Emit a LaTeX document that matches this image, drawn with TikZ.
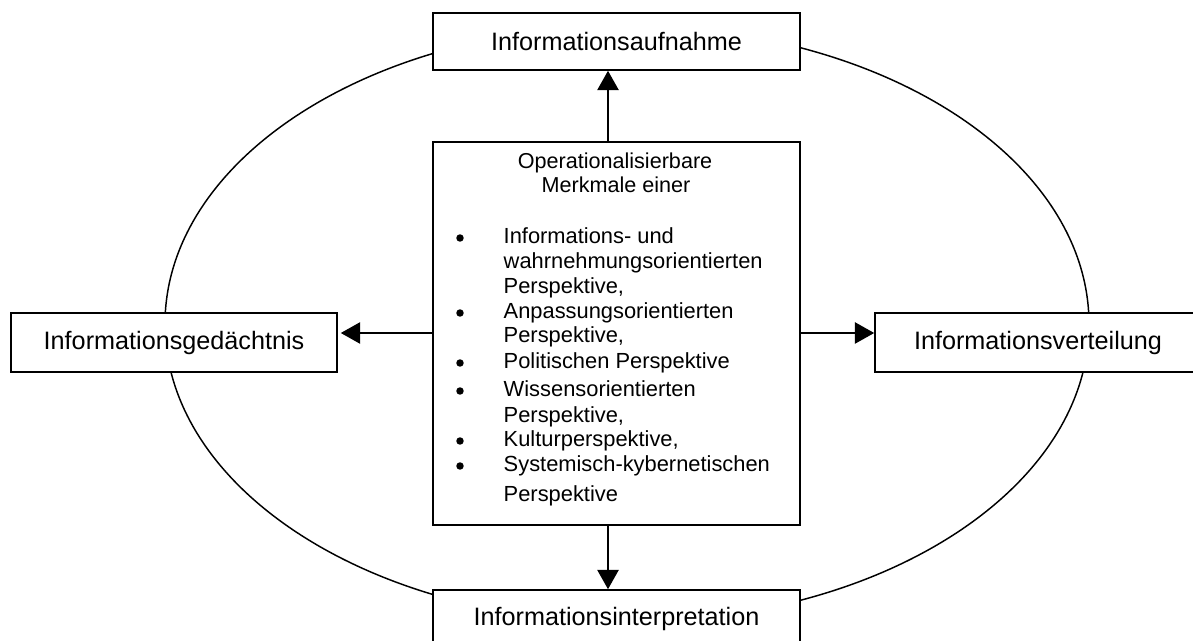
\documentclass[tikz,border=0pt]{standalone}
\usepackage{fontspec}
\setmainfont{Liberation Sans}
\usetikzlibrary{arrows.meta}
\begin{document}
\begin{tikzpicture}[x=0.75pt,y=-0.75pt,
  line width=1.1pt,
  stage/.style={draw,fill=white,inner sep=0pt,line width=1.2pt,
    font=\fontsize{18.9}{22}\selectfont},
  core/.style={draw,fill=white,inner sep=0pt,line width=1.2pt,
    minimum width=275.25pt,minimum height=287.25pt},
  ttl/.style={anchor=base,inner sep=0pt,font=\fontsize{16.2}{19}\selectfont},
  itm/.style={anchor=base west,inner sep=0pt,font=\fontsize{16.4}{19}\selectfont},
  flow/.style={line width=1.1pt,-{Triangle[length=14.5pt,width=16pt]}}]
\useasboundingbox (0,0) rectangle (1193,641);
\clip (0,0) rectangle (1193,641);
\fill[white] (0,0) rectangle (1193,641);

% outer cycle
\draw (627,324) ellipse [x radius=346.5pt, y radius=223.5pt];

% the four stages
\node[stage,minimum width=275.25pt,minimum height=42.75pt] (auf) at (616.5,41.5) {Informationsaufnahme};
\node[stage,minimum width=244.5pt,minimum height=44.25pt] (ged) at (174,342.5) {Informationsgedächtnis};
\node[stage,minimum width=244.5pt,minimum height=44.25pt] (ver) at (1038,342.5) {Informationsverteilung};
\node[stage,minimum width=275.25pt,minimum height=43.5pt] (int) at (616.5,619) {Informationsinterpretation};

% central box with the perspectives
\node[core] (core) at (616.5,333.5) {};
\node[ttl] (h1) at (615,169) {Operationalisierbare};
\node[ttl] (h2) at (616,193) {Merkmale einer};
\node[itm] (i1) at (503,244) {Informations- und};
\node[itm] (i2) at (503,269) {wahrnehmungsorientierten};
\node[itm] (i3) at (503,294) {Perspektive,};
\node[itm] (i4) at (503,319) {Anpassungsorientierten};
\node[itm] (i5) at (503,343) {Perspektive,};
\node[itm] (i6) at (503,369) {Politischen Perspektive};
\node[itm] (i7) at (503,397) {Wissensorientierten};
\node[itm] (i8) at (503,423) {Perspektive,};
\node[itm] (i9) at (503,447) {Kulturperspektive,};
\node[itm] (i10) at (503,472) {Systemisch-kybernetischen};
\node[itm] (i11) at (503,502) {Perspektive};
\foreach \b in {244,319,369,397,447,472}
  \fill (460,\b-6) circle [radius=2.8pt];

% connectors from the central box
\coordinate (ax) at (608,0);
\coordinate (ay) at (0,333);
\draw[flow] (core.north -| ax) -- (auf.south -| ax);
\draw[flow] (core.south -| ax) -- (int.north -| ax);
\draw[flow,shorten >=2.25pt] (core.west |- ay) -- (ged.east |- ay);
\draw[flow] (core.east |- ay) -- (ver.west |- ay);
\end{tikzpicture}
\end{document}
